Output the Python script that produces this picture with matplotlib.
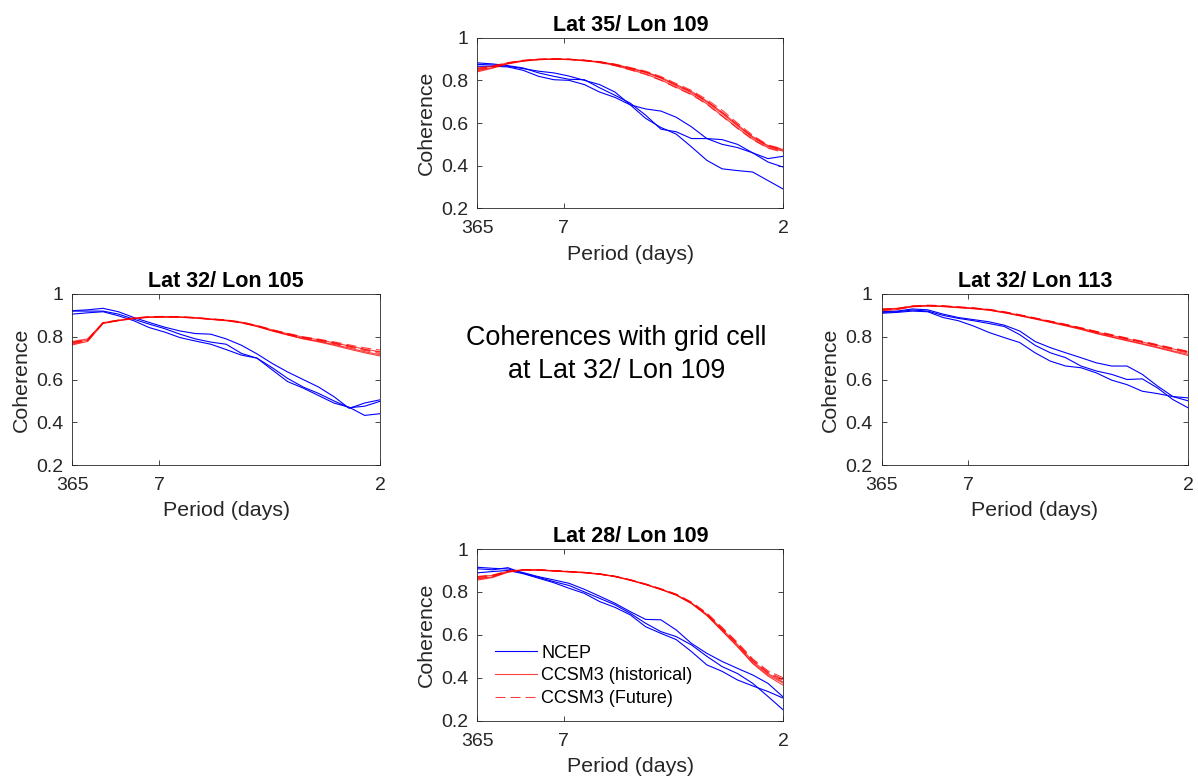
import matplotlib
matplotlib.use("Agg")
import matplotlib.pyplot as plt

plt.rcParams['font.family'] = ['Liberation Sans', 'DejaVu Sans']

# ---------------- data ----------------
# frequency sample grid (cycles/day), axis labelled by period
FREQ = [0.00274, 0.0276, 0.0524, 0.0773, 0.1022, 0.1270, 0.1519, 0.1768, 0.2016, 0.2265,
        0.2514, 0.2762, 0.3011, 0.3259, 0.3508, 0.3757, 0.4006, 0.4254, 0.4503, 0.4751, 0.5]
XTICK_PERIODS = [365, 7, 2]
XTICK_LABELS = ['365', '7', '2']
YTICKS = [0.2, 0.4, 0.6, 0.8, 1.0]
YTICK_LABELS = ['0.2', '0.4', '0.6', '0.8', '1']

# Lat 35 / Lon 109 (top)
n35_a = [0.875, 0.872, 0.866, 0.855, 0.843, 0.835, 0.820, 0.800, 0.780, 0.745, 0.685, 0.666, 0.656, 0.627, 0.582, 0.527, 0.500, 0.485, 0.460, 0.417, 0.393]
n35_b = [0.882, 0.877, 0.869, 0.858, 0.835, 0.819, 0.805, 0.803, 0.765, 0.730, 0.693, 0.637, 0.571, 0.559, 0.527, 0.527, 0.522, 0.500, 0.460, 0.433, 0.444]
n35_c = [0.866, 0.866, 0.863, 0.847, 0.819, 0.803, 0.800, 0.780, 0.745, 0.720, 0.685, 0.622, 0.579, 0.548, 0.488, 0.425, 0.385, 0.377, 0.370, 0.330, 0.290]
h35_1 = [0.855, 0.866, 0.882, 0.893, 0.899, 0.900, 0.898, 0.893, 0.884, 0.870, 0.850, 0.830, 0.802, 0.768, 0.735, 0.690, 0.634, 0.577, 0.524, 0.484, 0.468]
h35_2 = [0.845, 0.860, 0.879, 0.891, 0.897, 0.899, 0.897, 0.892, 0.885, 0.873, 0.855, 0.837, 0.810, 0.775, 0.742, 0.698, 0.644, 0.586, 0.531, 0.490, 0.472]
h35_3 = [0.840, 0.857, 0.877, 0.890, 0.897, 0.900, 0.899, 0.894, 0.887, 0.875, 0.858, 0.840, 0.814, 0.780, 0.748, 0.703, 0.650, 0.592, 0.536, 0.494, 0.476]
f35_1 = [0.852, 0.864, 0.881, 0.892, 0.898, 0.900, 0.898, 0.892, 0.883, 0.869, 0.849, 0.828, 0.800, 0.765, 0.733, 0.688, 0.632, 0.575, 0.522, 0.482, 0.462]
f35_2 = [0.848, 0.862, 0.880, 0.892, 0.898, 0.901, 0.899, 0.894, 0.886, 0.874, 0.856, 0.838, 0.812, 0.778, 0.746, 0.702, 0.650, 0.592, 0.535, 0.492, 0.470]
f35_3 = [0.858, 0.868, 0.883, 0.894, 0.899, 0.901, 0.899, 0.895, 0.888, 0.876, 0.860, 0.843, 0.818, 0.785, 0.753, 0.710, 0.660, 0.600, 0.542, 0.497, 0.478]

# Lat 32 / Lon 105 (left)
n105_a = [0.922, 0.926, 0.933, 0.917, 0.890, 0.867, 0.845, 0.827, 0.815, 0.812, 0.790, 0.760, 0.720, 0.675, 0.635, 0.600, 0.565, 0.520, 0.465, 0.490, 0.505]
n105_b = [0.920, 0.920, 0.920, 0.906, 0.882, 0.859, 0.838, 0.812, 0.790, 0.775, 0.765, 0.722, 0.700, 0.655, 0.605, 0.565, 0.535, 0.500, 0.468, 0.475, 0.498]
n105_c = [0.906, 0.912, 0.917, 0.898, 0.875, 0.843, 0.822, 0.796, 0.780, 0.765, 0.740, 0.714, 0.700, 0.645, 0.590, 0.560, 0.525, 0.490, 0.470, 0.432, 0.440]
h105_1 = [0.778, 0.790, 0.866, 0.877, 0.887, 0.892, 0.893, 0.892, 0.888, 0.882, 0.876, 0.866, 0.849, 0.828, 0.809, 0.792, 0.779, 0.764, 0.747, 0.730, 0.716]
h105_2 = [0.770, 0.784, 0.864, 0.876, 0.886, 0.891, 0.892, 0.891, 0.887, 0.881, 0.875, 0.865, 0.848, 0.827, 0.808, 0.790, 0.776, 0.760, 0.742, 0.725, 0.710]
h105_3 = [0.762, 0.778, 0.862, 0.875, 0.885, 0.891, 0.893, 0.892, 0.889, 0.883, 0.878, 0.868, 0.852, 0.832, 0.814, 0.798, 0.786, 0.772, 0.757, 0.742, 0.730]
f105_1 = [0.775, 0.787, 0.866, 0.878, 0.888, 0.894, 0.895, 0.894, 0.890, 0.884, 0.879, 0.869, 0.853, 0.833, 0.816, 0.800, 0.789, 0.776, 0.762, 0.748, 0.738]
f105_2 = [0.766, 0.781, 0.863, 0.876, 0.887, 0.893, 0.894, 0.893, 0.889, 0.883, 0.877, 0.867, 0.851, 0.831, 0.813, 0.797, 0.785, 0.771, 0.756, 0.740, 0.728]
f105_3 = [0.772, 0.785, 0.865, 0.877, 0.886, 0.892, 0.894, 0.892, 0.888, 0.882, 0.876, 0.866, 0.850, 0.830, 0.811, 0.795, 0.782, 0.768, 0.752, 0.736, 0.722]

# Lat 32 / Lon 113 (right)
n113_a = [0.917, 0.920, 0.930, 0.926, 0.906, 0.890, 0.880, 0.870, 0.854, 0.827, 0.778, 0.749, 0.725, 0.702, 0.678, 0.663, 0.663, 0.624, 0.569, 0.520, 0.500]
n113_b = [0.914, 0.917, 0.925, 0.920, 0.900, 0.886, 0.875, 0.862, 0.848, 0.810, 0.760, 0.725, 0.702, 0.663, 0.640, 0.624, 0.600, 0.603, 0.560, 0.506, 0.467]
n113_c = [0.910, 0.914, 0.920, 0.917, 0.890, 0.875, 0.850, 0.820, 0.796, 0.773, 0.725, 0.686, 0.663, 0.655, 0.631, 0.597, 0.576, 0.545, 0.534, 0.520, 0.514]
h113_1 = [0.928, 0.931, 0.942, 0.945, 0.942, 0.937, 0.932, 0.925, 0.913, 0.899, 0.884, 0.869, 0.853, 0.836, 0.817, 0.800, 0.784, 0.768, 0.751, 0.734, 0.718]
h113_2 = [0.922, 0.927, 0.940, 0.944, 0.941, 0.936, 0.931, 0.924, 0.912, 0.898, 0.883, 0.867, 0.851, 0.834, 0.815, 0.798, 0.781, 0.765, 0.748, 0.730, 0.712]
h113_3 = [0.930, 0.933, 0.943, 0.946, 0.943, 0.938, 0.934, 0.927, 0.915, 0.901, 0.886, 0.871, 0.856, 0.840, 0.822, 0.806, 0.790, 0.775, 0.759, 0.743, 0.728]
f113_1 = [0.926, 0.931, 0.944, 0.948, 0.945, 0.940, 0.935, 0.928, 0.917, 0.903, 0.888, 0.873, 0.858, 0.842, 0.825, 0.810, 0.794, 0.779, 0.763, 0.747, 0.732]
f113_2 = [0.924, 0.929, 0.941, 0.945, 0.943, 0.938, 0.933, 0.926, 0.914, 0.900, 0.886, 0.871, 0.855, 0.839, 0.821, 0.805, 0.789, 0.774, 0.757, 0.740, 0.724]
f113_3 = [0.929, 0.932, 0.943, 0.946, 0.944, 0.939, 0.934, 0.927, 0.916, 0.902, 0.887, 0.872, 0.857, 0.841, 0.824, 0.808, 0.792, 0.777, 0.761, 0.744, 0.729]

# Lat 28 / Lon 109 (bottom)
n28_a = [0.915, 0.910, 0.907, 0.890, 0.871, 0.856, 0.840, 0.812, 0.780, 0.747, 0.708, 0.672, 0.670, 0.623, 0.560, 0.514, 0.476, 0.444, 0.413, 0.374, 0.310]
n28_b = [0.908, 0.903, 0.913, 0.887, 0.868, 0.848, 0.830, 0.800, 0.770, 0.740, 0.700, 0.654, 0.615, 0.592, 0.553, 0.500, 0.452, 0.420, 0.374, 0.313, 0.250]
n28_c = [0.889, 0.895, 0.900, 0.885, 0.864, 0.843, 0.817, 0.793, 0.755, 0.728, 0.693, 0.638, 0.607, 0.578, 0.522, 0.460, 0.430, 0.390, 0.362, 0.336, 0.305]
h28_1 = [0.870, 0.877, 0.896, 0.904, 0.903, 0.899, 0.895, 0.891, 0.884, 0.873, 0.856, 0.836, 0.813, 0.787, 0.748, 0.692, 0.620, 0.548, 0.470, 0.413, 0.375]
h28_2 = [0.860, 0.870, 0.893, 0.902, 0.902, 0.898, 0.894, 0.890, 0.883, 0.872, 0.855, 0.835, 0.812, 0.785, 0.745, 0.690, 0.618, 0.545, 0.466, 0.408, 0.365]
h28_3 = [0.855, 0.867, 0.892, 0.902, 0.901, 0.897, 0.893, 0.889, 0.882, 0.871, 0.854, 0.834, 0.811, 0.786, 0.748, 0.696, 0.627, 0.556, 0.478, 0.420, 0.380]
f28_1 = [0.866, 0.875, 0.895, 0.903, 0.903, 0.899, 0.895, 0.891, 0.884, 0.873, 0.857, 0.837, 0.815, 0.790, 0.753, 0.702, 0.635, 0.565, 0.488, 0.432, 0.400]
f28_2 = [0.872, 0.879, 0.897, 0.904, 0.903, 0.899, 0.895, 0.890, 0.883, 0.872, 0.856, 0.836, 0.813, 0.788, 0.750, 0.698, 0.630, 0.560, 0.483, 0.427, 0.392]
f28_3 = [0.862, 0.872, 0.894, 0.903, 0.902, 0.898, 0.894, 0.890, 0.883, 0.872, 0.855, 0.835, 0.812, 0.787, 0.749, 0.695, 0.625, 0.555, 0.478, 0.422, 0.388]

PANELS = [
    ("Lat 35/ Lon 109", [n35_a, n35_b, n35_c], [h35_1, h35_2, h35_3], [f35_1, f35_2, f35_3]),
    ("Lat 32/ Lon 105", [n105_a, n105_b, n105_c], [h105_1, h105_2, h105_3], [f105_1, f105_2, f105_3]),
    ("Lat 32/ Lon 113", [n113_a, n113_b, n113_c], [h113_1, h113_2, h113_3], [f113_1, f113_2, f113_3]),
    ("Lat 28/ Lon 109", [n28_a, n28_b, n28_c], [h28_1, h28_2, h28_3], [f28_1, f28_2, f28_3]),
]
CENTER_TEXT = "Coherences with grid cell\nat Lat 32/ Lon 109"
LEGEND_LABELS = ["NCEP", "CCSM3 (historical)", "CCSM3 (Future)"]

# ---------------- layout ----------------
W, H = 1198, 780
fig = plt.figure(figsize=(W / 100, H / 100), dpi=100)

def px_rect(left, top, right, bottom):
    return [left / W, 1 - bottom / H, (right - left) / W, (bottom - top) / H]

RECTS = [
    px_rect(477.3, 37.7, 783.3, 208.3),
    px_rect(72.3, 294.0, 380.0, 465.0),
    px_rect(881.7, 294.0, 1188.3, 465.0),
    px_rect(477.3, 549.0, 783.3, 720.7),
]

GRAY = '#262626'
TICK_FS = 14
LABEL_FS = 15.4
TITLE_FS = 15.5

for i, (title, ncep, hist, fut) in enumerate(PANELS):
    ax = fig.add_axes(RECTS[i])
    hb = hh = hf = None
    for s in ncep:
        hb, = ax.plot(FREQ, s, color='#0000ff', lw=0.8)
    for s in hist:
        hh, = ax.plot(FREQ, s, color='#ff0000', lw=0.8, alpha=0.75)
    for s in fut:
        hf, = ax.plot(FREQ, s, color='#ff0000', lw=0.8, alpha=0.75,
                      linestyle=(0, (9, 4.5)))
    ax.set_xlim(1 / 365, 1 / 2)
    ax.set_ylim(0.2, 1.0)
    ax.set_xticks([1 / p for p in XTICK_PERIODS])
    ax.set_xticklabels(XTICK_LABELS)
    ax.set_yticks(YTICKS)
    ax.set_yticklabels(YTICK_LABELS)
    ax.tick_params(direction='in', length=3.5, width=0.6, colors=GRAY,
                   labelsize=TICK_FS, top=True, right=True)
    ax.tick_params(axis='x', pad=8.5)
    ax.tick_params(axis='y', pad=6.5)
    for sp in ax.spines.values():
        sp.set_color(GRAY)
        sp.set_linewidth(0.6)
    ax.set_xlabel("Period (days)", fontsize=LABEL_FS, color=GRAY, labelpad=5.5)
    ax.set_ylabel("Coherence", fontsize=LABEL_FS, color=GRAY, labelpad=4)
    ax.set_title(title, fontsize=TITLE_FS, fontweight='bold', color='black', pad=5)
    if i == 3:
        ax.legend([hb, hh, hf], LEGEND_LABELS, loc='lower left', frameon=False,
                  fontsize=13, handlelength=2.3, handletextpad=0.25,
                  labelspacing=0.31, borderaxespad=0.3,
                  bbox_to_anchor=(0.017, 0.007))

fig.text(616.5 / W, 1 - 355 / H, CENTER_TEXT, ha='center', va='center',
         fontsize=19.4, color='black', linespacing=1.35)

fig.savefig("out.png", dpi=100)
